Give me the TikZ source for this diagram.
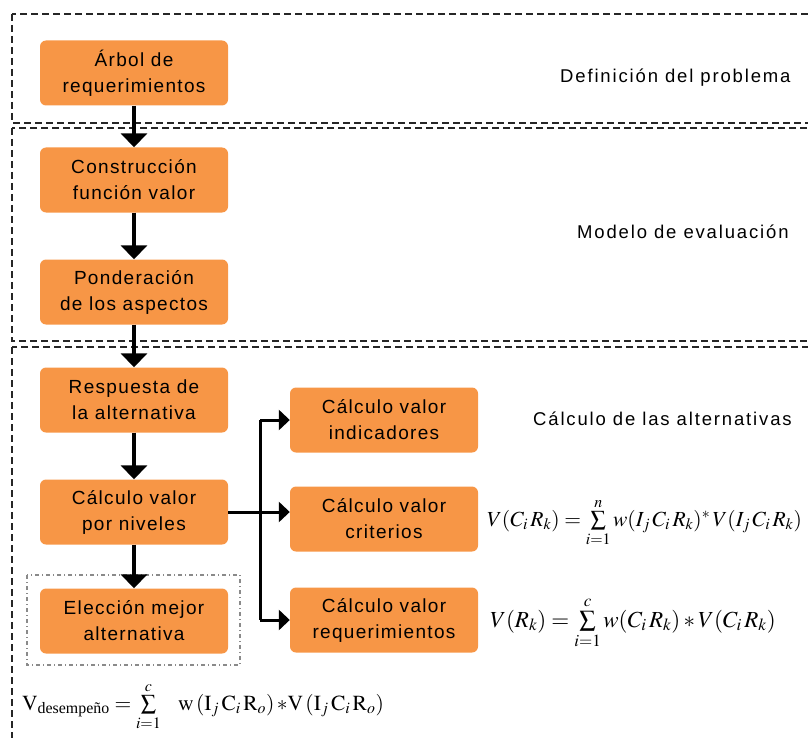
\documentclass[tikz,border=0pt]{standalone}
\usepackage{amsmath}
\usepackage{mathptmx}
\usepackage[no-math]{fontspec}
\setmainfont{Liberation Sans}[LetterSpace=7]
\newfontfamily\labelfont{Liberation Sans}[LetterSpace=10]
\newfontfamily\serif{Liberation Serif}
\usetikzlibrary{arrows.meta}
\definecolor{boxorange}{HTML}{F79646}
\definecolor{framegray}{HTML}{8A8A8A}
\tikzset{
  stepbox/.style={fill=boxorange, rounded corners=6pt, minimum width=188pt,
    minimum height=65pt, align=center, inner sep=2pt,
    font=\fontsize{19}{26}\selectfont},
  phase/.style={draw=black!85, line width=2pt, dash pattern=on 7pt off 4pt},
  choice/.style={draw=framegray, line width=1.3pt, dash pattern=on 4pt off 3pt on 1pt off 3pt},
  flow/.style={draw=black, line width=3.5pt, -{Triangle[width=26pt,length=14pt]}},
  branch/.style={draw=black, line width=3pt, -{Triangle[width=20pt,length=11pt]}},
  bus/.style={draw=black, line width=3pt},
  phaselabel/.style={anchor=base west, inner sep=0pt, font=\labelfont\fontsize{18.5}{22}\selectfont},
  formula/.style={anchor=base west, inner sep=0pt}
}
\begin{document}
\begin{tikzpicture}[x=1pt, y=-1pt]
  \useasboundingbox (0,0) rectangle (808,738);
  \clip (0,0) rectangle (808,738);

  % phase frames
  \draw[phase] (12,14) rectangle (840,123);
  \draw[phase] (12,128) rectangle (840,341);
  \draw[phase] (12,347) rectangle (840,770);

  % frame around the final choice
  \draw[choice] (27,575) rectangle (240,665);

  % left column
  \node[stepbox] (arbol) at (134,73) {Árbol de\\requerimientos};
  \node[stepbox] (constr) at (134,180) {Construcción\\función valor};
  \node[stepbox] (ponder) at (134,292) {Ponderación\\de los aspectos};
  \node[stepbox] (resp) at (134,400) {Respuesta de\\la alternativa};
  \node[stepbox] (niveles) at (134,512) {Cálculo valor\\por niveles};
  \node[stepbox] (eleccion) at (134,621) {Elección mejor\\alternativa};

  % right column
  \node[stepbox] (ind) at (384,420) {Cálculo valor\\indicadores};
  \node[stepbox] (crit) at (384,519) {Cálculo valor\\criterios};
  \node[stepbox] (req) at (384,620) {Cálculo valor\\requerimientos};

  % vertical flow
  \draw[flow] (arbol) -- (constr);
  \draw[flow] (constr) -- (ponder);
  \draw[flow] (ponder) -- (resp);
  \draw[flow] (resp) -- (niveles);
  \draw[flow] (niveles) -- (eleccion);

  % branching to the level computations
  \coordinate (split) at (260,512);
  \draw[branch] (niveles.east) -- (niveles.east -| crit.west);
  \draw[bus] (split |- ind.west) -- (split |- req.west);
  \draw[branch] (split |- ind.west) -- (ind.west);
  \draw[branch] (split |- req.west) -- (req.west);

  % phase names
  \node[phaselabel] (l1) at (560,83) {Definición del problema};
  \node[phaselabel] (l2) at (577,238) {Modelo de evaluación};
  \node[phaselabel] (l3) at (533,425) {Cálculo de las alternativas};

  % formulas
  \node[formula, font=\fontsize{21.5}{26}\selectfont] (f1) at (487,526)
    {$V(C_{i}\,R_{k})=\sum\limits_{i=1}^{n} w(I_{j}\,C_{i}\,R_{k})^{*}\,V(I_{j}\,C_{i}\,R_{k})$};
  \node[formula, font=\fontsize{23}{28}\selectfont] (f2) at (490,627)
    {$V(R_{k})=\sum\limits_{i=1}^{c} w(C_{i}\,R_{k})*V(C_{i}\,R_{k})$};
  \node[formula, font=\fontsize{21.5}{26}\selectfont] (f3) at (22,710)
    {$\mathrm{V}_{\text{\serif desempeño}}=\sum\limits_{i=1}^{c}\ \ \mathrm{w}\,(\mathrm{I}_{j}\,\mathrm{C}_{i}\,\mathrm{R}_{o})\,{*}\mathrm{V}\,(\mathrm{I}_{j}\,\mathrm{C}_{i}\,\mathrm{R}_{o})$};
\end{tikzpicture}
\end{document}
